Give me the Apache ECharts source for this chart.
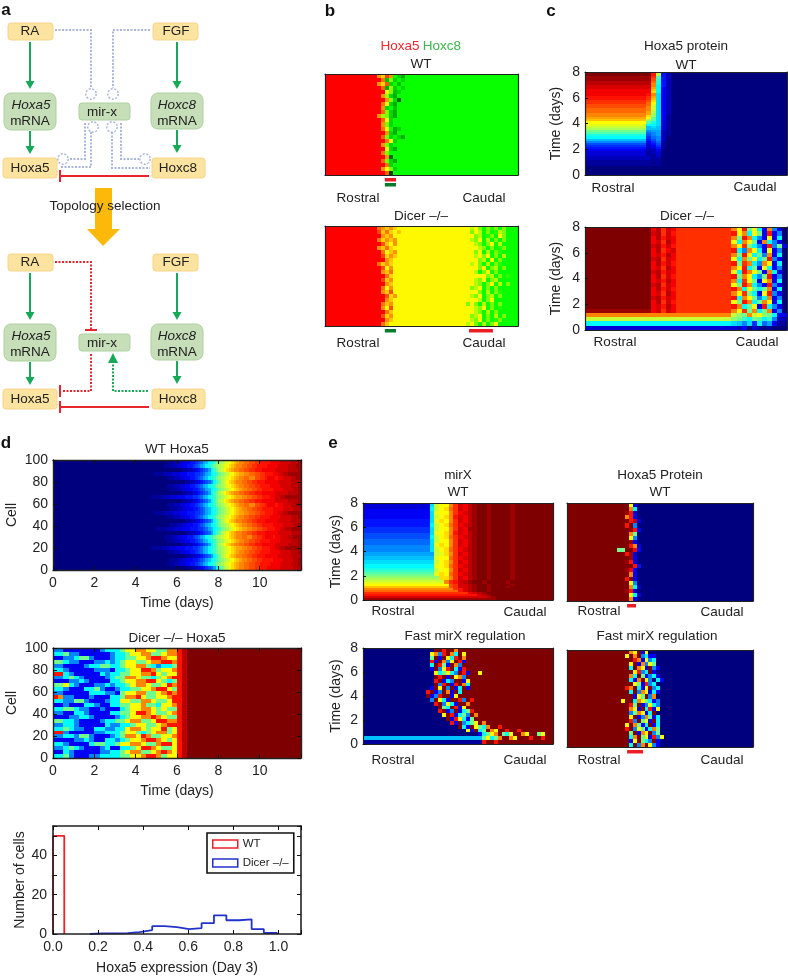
<!DOCTYPE html>
<html><head><meta charset="utf-8">
<style>html,body{margin:0;padding:0;background:#fff}#c{width:788px;height:976px}</style>
<script src="https://cdn.jsdelivr.net/npm/echarts@6/dist/echarts.min.js"></script>
</head><body><div id="c"></div>
<script>
// ---------- DATA: each string is a row of cells (top row first), one base-36 digit per cell, c{n} repeats, the last digit fills the row
const bWT = ["0{13}9e49qsuq","0{14}7tmsqsq","0{13}9e5sqtq","0{14}6ulsqsq","0{15}hmtsq","0{14}9lsuq","0{15}9msxq","0{14}7hsuq","0{14}9sqtq","0{14}6msuq","0{13}9lmsuq","0{14}6hsq","0{14}9msq","0{14}7hqusq","0{15}9suq","0{14}6msqsuq","0{15}7hsq","0{14}9msq","0{15}hsuq","0{14}7mq","0{15}9xq","0{14}6msuq","0{15}7sq","0{14}9hmsq","0{15}6zq"];
const bDicer = ["0{13}79d9eh{18}khmqmpmqmq","0{13}4d7ehdh{17}mhkqmqpkmq","0{14}9d9h{19}hmkqpmqhmq","0{13}7e9d9h{18}kmhqkqmqmq","0{14}5dh9h{19}kmqmhqkqq","0{13}9d7eh{20}hkmqmqpmq","0{14}7hd9h{19}mhqkqmpq","0{14}4e9dh{19}khmhqmqkq","0{15}9dh{21}mkqhqmq","0{13}7d9eh{18}hkhmqkqmpq","0{14}5h9h{21}mhqmkqmq","0{14}9d7h{20}kqmhqmqq","0{15}7eh{22}hmkqmqpq","0{14}4d9h{20}kmhqmkqq","0{15}9dh{19}hkmqmhqkqmq","0{14}7h9h{19}mkhqmqmq","0{14}9d5h{20}hmqkqmpq","0{15}5e9h{18}kmhqmkqmq","0{15}9dh{20}hkqmhqq","0{14}7d9h{18}mhmqkqmqmq","0{14}9h5h{20}kmhqmqpq","0{15}7dh{19}hkmqkqmq","0{14}5e9h{19}mkhqmqkqmq","0{15}9dh{18}hkmhqmqpmq","0{14}7dh{19}khmqkqmhq"];

const cWT = ["z{13}uk520","z{13}uj520","y{13}tg520","y{13}sf520","x{13}re520","x{13}qe520","w{13}qd520","w{13}pd420","v{13}od420","v{13}nd420","v{12}uqc420","u{12}tpc420","u{12}toc420","t{12}snc420","t{12}rmc420","s{12}rlc420","s{12}qkc420","r{12}qkc420","r{12}pjc420","q{12}pjc420","q{12}nic410","p{12}mhc410","o{12}jgc410","m{12}gec310","l{12}ddc310","k{12}bcb310","j{12}bbb310","h{12}9aa210","g{12}89a210","e{12}79a210","d{12}68920","b{12}57920","9{12}46810","7{12}35710","6{12}34610","5{12}23510","4{12}22400","3{12}12300","3{12}11300","2{13}1200","2{13}1100","1{15}0","1{13}010","1{15}0","0","0","0","0"];
const cDicer = ["z{13}vxtwvt{11}qmuhmd4q940","z{13}wxtwut{11}umqdmh4u490","z{13}vxuwvt{11}qhuqd94m4d0","z{13}vwtxvt{11}mdqmh4qd940","z{13}wxuwut{11}qmthd94u9h4","z{13}vxtvwt{11}ud9qmd4m490","z{13}vwuxvt{11}qhumdh9q4d0","z{13}wxtwvt{11}mdqhmdhu940","z{13}vxuwut{11}uhtqd9qm4d0","z{13}vwtxvt{11}qmudh4md490","z{13}wxuwvt{11}mduqmh4qd40","z{13}vxtwut{11}uhqmd9hu490","z{13}vwuxvt{11}qdtmh4mq4d0","z{13}wxtwvt{11}mhuqd94u940","z{13}vxuwut{11}uqdmhdhq4d0","z{13}vwtxvt{11}qmthd4mu940","z{13}wxuwvt{11}udqmh9dq490","z{13}vxtwut{11}mhuqdhqm4d0","z{13}vwuxvt{11}uqdhm4ud940","y{13}vwtwvt{11}qmthqdhq490","q{29}kihqkmihd4","k{29}ihfdhgdf92","d{29}cb9c6d8a41","3{29}3240310100"];

const dWT = ["0{44}11122334455678abdefhijklmnopqqrrssttuuuuvvvvwwwwxxxy","0{43}11122334455678abdefhijklmnopqqrrssttuuuuvvvvwwwwxxxy","0{50}1122345678adfhjkmnopqqrrssttuuuvvvvvwwwwwxxxxy","0{39}11112223334445556678abdefhijklmnoppqqrrssttuuuvvwwxxy","0{44}11122334455678abdefhijklmnopqqrrqqssttuvvvuvvwwwxxy","0{51}1122345678adfhjkmnopqqrrssttuuuvvvvvwwwwwxxxxy","0{44}11122334455678abdefhijklmnopqqrrssttuuuuvvvvwwwwxxxy","0{45}11122334455678abdefhijklmnopqqrrssttuuuuvvvvwwwwxxy","0{50}1122345678adfhjkmnopqqrrssttuuuvvvvvwwwwwxxxxy","0{38}11112223334445556678abdefhijklmnoppqqrrssttuuuvvwwxxy","0{50}1122345678adfhjkmnopqqrrssttuuuvvvvvwwwwwxxxxy","0{44}11122334455678abdefhijklmnopqqrrqqssttuvvvuvvwwwxxy","0{45}11122334455678abdefhijklmnopqqrrssttuuuuvvvvwwwwxxxy","0{39}11112223334445556678abdefhijklmnoppqqrrssttuuuvvwwxxy","0{44}11122334455678abdefhijklmnopqqrrssttuuuuvvvvwwwwxxxy","0{51}1122345678adfhjkmnopqqrrssttuuuvvvvvwwwwwxxxxy","0{45}11122334455678abdefhijklmnopqqrrssttuuuuvvvvwwwwxxy","0{40}11112223334445556678abdefhijklmnoppqqrrssttuuuvvwwxxy","0{51}1122345678adfhjkmnopqqrrssttuuuvvvvvwwwwwxxxxy","0{43}11122334455678abdefhijklmnopqqrrqqssttuvvvuvvwwwxxy","0{44}11122334455678abdefhijklmnopqqrrssttuuuuvvvvwwwwxxxy","0{50}1122345678adfhjkmnopqqrrssttuuuvvvvvwwwwwxxxxy","0{38}11112223334445556678abdefhijklmnoppqqrrssttuuuvvwwxxy","0{44}11122334455678abdefhijklmnopqqrrssttuuuuvvvvwwwwxxxy","0{51}1122345678adfhjkmnopqqrrssttuuuvvvvvwwwwwxxxxy","0{45}11122334455678abdefhijklmnopqqrrssttuuuuvvvvwwwwxxy","0{44}11122334455678abdefhijklmnopqqrrssttuuuuvvvvwwwwxxxy","0{52}1122345678adfhjkmnopqqrrssttuuuvvvvvwwwwwxxxxy"];
const dDicer = ["9944444449dddhmmqqmmhhqquxz","ddh994444449ddhmmqqhhmqquxz","4499dhh94449ddhhmmquuqmmuxz","hhd9944499d9dhmmhhmqquuquxz","9944449ddhhddhmmqqhd9ddhuxz","dd9444449994ddhmmuuqhmmquxz","uud944444d9ddhhmmqqumhmmuxz","99dhd944449dhhqqmhhdhmquuxz","44499d94444ddhmmqquumhdhuxz","hhmd944499d9ddhmqqmhhmuquxz","dd9444ddh9449ddhhmmquumhuxz","9944444ddd994hmmqqhhmququxz","uq994449444ddhqqumhhmmquuxz","dd99hh94449ddmmhhqqmhhmuuxz","449444dd944ddhhmmqhhdmmquxz","ddhhd99449444dhmmqqmhmhhuxz","9944dd94444ddhhmuuqmhhmquxz","44499dd944449dhmmqquqmhhuxz","hhdd944449ddhhmqqhhmuuqquxz","99dd944444d99ddhmmhhmquuuxz","ddhd9944dd99ddmqqmhmmuhmuxz","uu94444499dddhmmhdhmqqhmuxz","99dd9hh94449dhqqmuqhhmmquxz","444499d944dd9dhmmquuqmhmuxz","dd94444dhhddhmmqqmhhquumuxz","99dhd94449d44ddhmuuqmhhmuxz","44d94444499ddhmqqhhmquqmuxz","ddh944499ddddhhmmquuqhmmuxz"];

const eMirWT = ["3{14}ckmmqtwvxyzzyzzzzyzz","3{14}ckmmqtwvxyzzyzzzzyzz","3{14}dkmnrtwvxyzzyzzzzyzz","4{14}dkmnrtwvxyzzyzzzzyzz","4{14}clmmqtvwxyzzyzzzzyzz","4{14}clmmqtvwxyzzyzzzzyzz","4{14}ckmnquwvxyzzyzzzzyzz","4{14}ckmnquwvxyzzyzzzzyzz","5{14}clnmqtwvxyzzyzzzzyzz","5{14}clnmqtwvxyzzyzzzzyzz","5{14}dkmnrtvwxyzzyzzzzyzz","5{14}dkmnrtvwxyzzyzzzzyzz","6{14}ckmmqtwvyyzzyzzzzyzz","6{14}ckmmqtwvyyzzyzzzzyzz","6{14}clmnquwvxyzzyzzzzyzz","7{14}clmnquwvxyzzyzzzzyzz","7{14}dkmnrtvwxyzzyzzzzyzz","7{14}dkmnrtvwxyzzyzzzzyzz","8{14}ckmmqtwvxyzzyzzzzyzz","8{14}ckmmqtwvxyzzyzzzzyzz","8{14}clnmqtwvxyzzyzzzzyzz","9{14}clnmqtwvxyzzyzzzzyzz","9{14}ckmnrtvwxyzzyzzzzyzz","9{14}ckmnrtvwxyzzyzzzzyzz","a{15}klnqtwvxyzzyzzzzyzz","a{15}klnqtwvxyzzyzzzzyzz","b{15}lmmrtvwxyzzyzzzzyzz","b{15}lmmrtvwxyzzyzzzzyzz","c{15}kmnqtwvxyzzyzzzzyzz","c{15}kmnqtwvxyzzyzzzzyzz","d{15}lmnrtvwxyzzyzzzzyzz","d{15}lmnrtvwxyzzyzzzzyzz","e{15}kmmqtwvxyzzyzzzzyzz","f{15}kmmqtwvxyzzyzzzzyzz","g{15}lnmrtvwxyzzyzzzzyzz","h{15}lnmrtvwxyzzyzzzzyzz","i{16}nnqtwvxyzzyzzzzyzz","j{16}nnqtwvxyzzyzzzzyzz","k{17}qtuwxyzzyzzzzyzz","l{17}qtuwxyzzyzzzzyzz","m{18}stwwxyzzyzzzzyzz","o{18}stwwxyzzyzzzyzz","q{19}tuwxyzzyzzzz","r{20}uwxyzzyzz","t{22}vwxyzzz","u{24}wxyz","w{26}xyz","y{28}z"];
const eProtWT = ["z{16}m40","z{16}qd0","z{15}yu30","z{15}qu40","z{16}ux30","z{15}uz90","z{16}yu40","z{16}qh0","z{16}m90","z{15}zy40","z{16}uq30","z{13}hhz{2}v40","z{15}uy30","z{16}y40","z{15}yu30","z{16}zu50","z{15}yv40","z{16}q40","z{15}uz40","z{16}m90","z{16}qd20","z{15}yu30","z{16}md30","z{16}q40"];
const eMirFast = ["0{18}zzuzzqz","0{17}mq9uzqdzmz","0{17}hz4zmduzqz","0{17}u4zq9mzu4z","0{17}dzuh4zq9zz","0{17}4z9muzd4uz","0{18}mdhmd9zu4zzmz","0{18}zuz4zmq9z","0{18}uz4d9zz4mz","0{18}z9uz4uzqdz","0{17}4zmz9z4dz4z","0{16}uz49zq4zdz","0{16}z49uzz4mzz","0{17}9zmd4zzu9zuz","0{18}uz9md4zzqz","0{19}zhdzu4mzz","0{19}uz49z4dhuz","0{20}mzu4dh9zqz","0{21}z4umd4hzz","0{22}u4z9dhmzqz","0{24}zd4zmhdqzzuz","0{26}m4zdhzqmzzuzzuz","0{29}4dhmqzhdmzzqmzzhmz","b{30}hmdhqzzqmzzzuzzuz","1{30}uzzuzzzzzzzzzzzzz"];
const eProtFast = ["z{16}qmz4m0","z{15}mzqz9d440","z{16}zuq4m9d0","z{16}mz4q9mh0","z{16}dzqm4z940","z{16}zmu9dz40","z{15}zqdzh49d40","z{16}d4qzm90d40","z{16}zmh4u9d0","z{15}uqzd4mz9d0","z{16}dz9qm4d40","z{16}z4mhz9q0","z{14}mzzdqmhd490","z{16}uhz49md90","z{16}qm4zdu4m0","z{15}z9hqm4dz0","z{16}mz49qh4d0","z{16}u9zhm4zd0","z{15}mzqh4dz4d0","z{15}uz9mh4dqh0","z{16}hz4qmz9h0","z{16}dqzhm4u9m0","z{15}z4mzhd9z40","z{16}dz9qzm940"];

const histWtEdges = [0, 0.05];
const histWtCounts = [50];
const histDicerEdges = [0.164, 0.22, 0.275, 0.331, 0.384, 0.44, 0.495, 0.55, 0.604, 0.659, 0.714, 0.769, 0.825, 0.881, 0.935, 0.994];
const histDicerCounts = [0.3, 0.3, 0.4, 1, 2, 4, 3.5, 2.5, 3, 5.5, 9.5, 7, 7.5, 2.5, 0.5];

// bars under the panels: [from, to, row], as a fraction of the panel width
const bWtRedMarks = [[0.31, 0.368, 0]];
const bWtGreenMarks = [[0.31, 0.368, 1]];
const bDicerGreenMarks = [[0.31, 0.368, 0]];
const bDicerRedMarks = [[0.746, 0.87, 0]];
const eProtWtRedMarks = [[0.323, 0.371, 0]];
const eProtFastRedMarks = [[0.323, 0.409, 0]];

const JET = ['#00007f','#0000ff','#007fff','#00ffff','#7fff7f','#ffff00','#ff7f00','#ff0000','#7f0000'];
const REDGREEN = ['#ff0000','#ff9000','#ffff00','#00ff00','#004000'];
const FONT = '"Liberation Sans", Arial, sans-serif';
const TXT = '#222';
const FS = 13.5;

// ---------- chart assembly
const opt = {animation:false, backgroundColor:'#fff', grid:[], xAxis:[], yAxis:[], series:[], graphic:[], visualMap:[]};
const jetIdx = [], rgIdx = [];

function decode(rows, cols){
  const out = [];
  const n = rows.length;
  rows.forEach((r,i)=>{
    let s = r.replace(/(.)\{(\d+)\}/g,(m,c,k)=>c.repeat(+k));
    s = s.padEnd(cols, s[s.length-1]).slice(0,cols);
    for(let j=0;j<cols;j++) out.push([j, n-1-i, parseInt(s[j],36)]);
  });
  return out;
}
function frameAxis(g, pos, c){
  return {type:'value', gridIndex:g, position:pos, min:c.min, max:c.max, interval:c.interval, z:6,
    axisLine:{show:true,onZero:false,lineStyle:{color:'#222',width:c.lw||1.2}},
    axisTick:{show:!!c.ticks,inside:true,length:c.tickLen||4,lineStyle:{color:'#111',width:1}},
    axisLabel:{show:!!c.labels,color:TXT,fontFamily:FONT,fontSize:FS+0.5,margin:c.margin||5,formatter:c.fmt,hideOverlap:false},
    splitLine:{show:false},
    name:c.name, nameLocation:'middle', nameGap:c.nameGap,
    nameTextStyle:{color:TXT,fontFamily:FONT,fontSize:FS+0.5}};
}
function addGrid(box){
  const g = opt.grid.length;
  opt.grid.push({left:box[0],top:box[1],width:box[2]-box[0],height:box[3]-box[1],show:false});
  return g;
}
function cellItem(p,api){
  const c = api.coord([api.value(0),api.value(1)]), s = api.size([1,1]), cs = p.coordSys;
  const x0 = Math.round(c[0]-s[0]/2), y0 = Math.round(c[1]-s[1]/2);
  // one pixel of overlap with the next cell so that no seam shows
  const x1 = Math.min(Math.round(c[0]+s[0]/2)+1, cs.x+cs.width);
  const y1 = Math.min(Math.round(c[1]+s[1]/2)+1, cs.y+cs.height);
  return {type:'rect',shape:{x:x0,y:y0,width:x1-x0,height:y1-y0},style:{fill:api.visual('color')}};
}
function heat(rows, cols, box, palette, xc, yc){
  const g = addGrid(box);
  const cx = opt.xAxis.length, cy = opt.yAxis.length;
  opt.xAxis.push({type:'category',gridIndex:g,show:false,position:'bottom',data:Array.from({length:cols},(_,i)=>i)});
  opt.yAxis.push({type:'category',gridIndex:g,show:false,position:'left',data:Array.from({length:rows.length},(_,i)=>i)});
  const bx = opt.xAxis.length, ly = opt.yAxis.length;
  opt.xAxis.push(frameAxis(g,'bottom',xc), frameAxis(g,'top',{...xc,labels:false,name:undefined}));
  opt.yAxis.push(frameAxis(g,'left',yc), frameAxis(g,'right',{...yc,labels:false,name:undefined,ticks:yc.rticks}));
  (palette==='jet'?jetIdx:rgIdx).push(opt.series.length);
  opt.series.push({type:'custom',xAxisIndex:cx,yAxisIndex:cy,data:decode(rows,cols),silent:true,progressive:0,z:2,renderItem:cellItem,encode:{x:0,y:1}});
  return {bx,ly};
}
function marks(ax, data, color){
  opt.series.push({type:'custom',xAxisIndex:ax.bx,yAxisIndex:ax.ly,data,silent:true,clip:false,z:7,
    renderItem(p,api){
      const x0 = api.coord([api.value(0),0])[0], x1 = api.coord([api.value(1),0])[0];
      const y = p.coordSys.y+p.coordSys.height+3+api.value(2)*5;
      return {type:'rect',shape:{x:x0,y,width:x1-x0,height:3.5},style:{fill:color}};
    }});
}
const plain = {min:0,max:1,interval:1};
const days8 = {min:0,max:8,interval:2,ticks:true,labels:true,tickLen:3,fmt:v=>v};
const days8c = {...days8,name:'Time (days)',nameGap:22};
const days8e = {...days8,name:'Time (days)',nameGap:20};
const G='#0a7a2c', R='#ee1c25';

// panel b
let ax = heat(bWT,48,[325,74,518,175],'rg',plain,plain);
marks(ax,bWtRedMarks,R); marks(ax,bWtGreenMarks,G);
ax = heat(bDicer,48,[325,226,518,326],'rg',plain,plain);
marks(ax,bDicerGreenMarks,G); marks(ax,bDicerRedMarks,R);

// panel c
heat(cWT,40,[585,72,787,175],'jet',plain,days8c);
heat(cDicer,40,[585,227,787,330],'jet',plain,days8c);

// panel d
const dx = {min:0,max:12,interval:2,ticks:true,labels:true,lw:1.4,margin:6,fmt:v=>v===12?'':v,name:'Time (days)',nameGap:26};
const dy = {min:0,max:100,interval:20,ticks:true,rticks:true,labels:true,lw:1.4,margin:5,fmt:v=>v,name:'Cell',nameGap:34};
heat(dWT,96,[53,460,301,570],'jet',dx,dy);
heat(dDicer,48,[53,648,301,758],'jet',dx,dy);

// panel e
heat(eMirWT,40,[363,503,553,600],'jet',plain,days8e);
ax = heat(eProtWT,48,[567,503,753,601],'jet',plain,plain);
marks(ax,eProtWtRedMarks,R);
heat(eMirFast,48,[363,648,553,744],'jet',plain,days8e);
ax = heat(eProtFast,48,[567,650,753,747],'jet',plain,plain);
marks(ax,eProtFastRedMarks,R);

opt.visualMap.push({type:'continuous',show:false,min:0,max:35,dimension:2,seriesIndex:jetIdx,inRange:{color:JET}});
opt.visualMap.push({type:'continuous',show:false,min:0,max:35,dimension:2,seriesIndex:rgIdx,inRange:{color:REDGREEN}});

// histogram
function steps(edges,counts){
  const pts=[[edges[0],0]];
  counts.forEach((c,i)=>{pts.push([edges[i],c],[edges[i+1],c]);});
  pts.push([edges[edges.length-1],0]);
  return pts;
}
const hg = addGrid([53,826,301,936]);
const hx = {min:0,max:1.1,interval:0.2,ticks:true,labels:true,lw:1.6,margin:6,fmt:v=>(Math.abs(v/0.2-Math.round(v/0.2))<1e-6?v.toFixed(1):''),name:'Hoxa5 expression (Day 3)',nameGap:27};
const hy = {min:0,max:55,interval:10,ticks:true,rticks:true,labels:true,lw:1.6,margin:6,fmt:v=>(v%20===0?v:''),name:'Number of cells',nameGap:23};
const hxi=opt.xAxis.length, hyi=opt.yAxis.length;
opt.xAxis.push(frameAxis(hg,'bottom',hx),frameAxis(hg,'top',{...hx,labels:false,name:undefined}));
opt.yAxis.push(frameAxis(hg,'left',hy),frameAxis(hg,'right',{...hy,labels:false,name:undefined}));
const hline=(name,pts,color)=>({type:'line',name,xAxisIndex:hxi,yAxisIndex:hyi,data:pts,showSymbol:false,symbol:'none',silent:true,clip:false,z:4,lineStyle:{color,width:1.8},itemStyle:{color}});
opt.series.push(hline('WT',steps(histWtEdges,histWtCounts),'#e8232a'));
opt.series.push(hline('Dicer –/–',steps(histDicerEdges,histDicerCounts),'#2233cc'));
opt.legend={left:207,top:833,orient:'vertical',icon:'rect',itemWidth:25,itemHeight:8,itemGap:7,padding:[5,5,4,5],
  backgroundColor:'#fff',borderColor:'#111',borderWidth:1.6,z:9,selectedMode:false,
  textStyle:{color:TXT,fontFamily:FONT,fontSize:11.5},
  data:[{name:'WT',itemStyle:{color:'#fff',borderColor:'#e8232a',borderWidth:1.5}},{name:'Dicer –/–',itemStyle:{color:'#fff',borderColor:'#2233cc',borderWidth:1.5}}]};

// ---------- texts and the network diagram
const gfx = opt.graphic;
function T(text,x,y,o={}){gfx.push({type:'text',silent:true,z:o.z||10,style:{text,x,y,align:o.align||'center',verticalAlign:'middle',fill:o.fill||TXT,fontFamily:FONT,fontSize:o.size||FS,fontWeight:o.weight||'normal',fontStyle:o.style||'normal'}});}
[['a',6,10],['b',330,11],['c',551,11],['d',6,443],['e',333,443]].forEach(l=>T(l[0],l[1],l[2],{weight:'bold',size:17,fill:'#111'}));
T('Hoxa5',400,46,{fill:'#ee2a30'}); T('Hoxc8',442,46,{fill:'#3cb54a'});
T('WT',421,64); T('Dicer –/–',421,216);
T('Rostral',358,198); T('Caudal',484,198); T('Rostral',358,343); T('Caudal',484,343);
T('Hoxa5 protein',686,46); T('WT',686,65); T('Dicer –/–',687,216);
T('Rostral',613,188); T('Caudal',755,187); T('Rostral',615,342); T('Caudal',757,342);
T('WT Hoxa5',177,449); T('Dicer –/– Hoxa5',177,638);
T('mirX',458,475); T('WT',458,492); T('Hoxa5 Protein',660,475); T('WT',660,492);
T('Fast mirX regulation',465,636); T('Fast mirX regulation',657,636);
T('Rostral',393,611); T('Caudal',525,612); T('Rostral',599,611); T('Caudal',722,612);
T('Rostral',393,760); T('Caudal',525,760); T('Rostral',599,760); T('Caudal',722,760);

const GN='#17a957', RD='#e8262d', BL='#aab6dc';
function box(x,y,w,h,kind,r){gfx.push({type:'rect',silent:true,z:5,shape:{x,y,width:w,height:h,r:r||(kind==='y'?3:4)},style:kind==='y'?{fill:'#fce3a0',stroke:'#f6d48a',lineWidth:1}:{fill:'#c6dfb9',stroke:'#aed0a2',lineWidth:1}});}
function pl(points,color,dash,w){gfx.push({type:'polyline',silent:true,z:4,shape:{points},style:{stroke:color,fill:null,lineWidth:w||2,lineDash:dash||null}});}
function arrowDown(x,y0,y1){pl([[x,y0],[x,y1-6]],GN);gfx.push({type:'polygon',silent:true,z:4,shape:{points:[[x-4.5,y1-8],[x+4.5,y1-8],[x,y1]]},style:{fill:GN}});}
function circ(x,y){gfx.push({type:'circle',silent:true,z:4,shape:{cx:x,cy:y,r:5.2},style:{fill:null,stroke:BL,lineWidth:1.5,lineDash:[2,1.6]}});}
const DOT=[2,1.5];
function network(dy){
  box(8,23+dy,45,17,'y'); T('RA',30,31+dy,{z:11});
  box(153,23+dy,45,17,'y'); T('FGF',176,31+dy,{z:11});
  box(4,93+dy,52,37,'g',7); T('Hoxa5',31,105+dy,{z:11,style:'italic'}); T('mRNA',30,121+dy,{z:11});
  box(151,93+dy,52,36,'g',7); T('Hoxc8',177,105+dy,{z:11,style:'italic'}); T('mRNA',177,121+dy,{z:11});
  box(79,103+dy,51,17,'g',3); T('mir-x',102,112+dy,{z:11});
  box(3,158+dy,54,20,'y'); T('Hoxa5',30,168+dy,{z:11});
  box(152,158+dy,53,20,'y'); T('Hoxc8',178,168+dy,{z:11});
  arrowDown(30,42+dy,89+dy); arrowDown(177,42+dy,89+dy);
  arrowDown(30,131+dy,154+dy); arrowDown(177,130+dy,153+dy);
  pl([[149,176+dy],[60,176+dy]],RD); pl([[60,170+dy],[60,182+dy]],RD);
}
network(0); network(231);
// upper dotted candidates
pl([[55,30],[91,30],[91,88]],BL,DOT); pl([[150,30],[113,30],[113,88]],BL,DOT);
circ(91,94); circ(113,94); circ(93,127); circ(112,127); circ(63,159); circ(145,159);
pl([[85,123],[85,159],[69,159]],BL,DOT); pl([[91,132],[91,167],[60,167]],BL,DOT);
pl([[121,123],[121,159],[139,159]],BL,DOT); pl([[112,132],[112,168],[150,168]],BL,DOT);
// selected topology
pl([[55,262],[91,262],[91,330]],RD,DOT); pl([[85,330],[97,330]],RD);
pl([[91,354],[91,391],[62,391]],RD,DOT); pl([[60,385],[60,397]],RD);
pl([[148,391],[113,391],[113,362]],GN,DOT);
gfx.push({type:'polygon',silent:true,z:4,shape:{points:[[108,363],[118,363],[113,353]]},style:{fill:GN}});
// big arrow
gfx.push({type:'polygon',silent:true,z:3,shape:{points:[[95,188],[112,188],[112,229],[120,229],[103,246],[87,229],[95,229]]},style:{fill:'#fcb90a'}});
T('Topology selection',105,206,{z:11});

const chart = echarts.init(document.getElementById('c'),null,{renderer:'canvas'});
chart.setOption(opt);
</script></body></html>
